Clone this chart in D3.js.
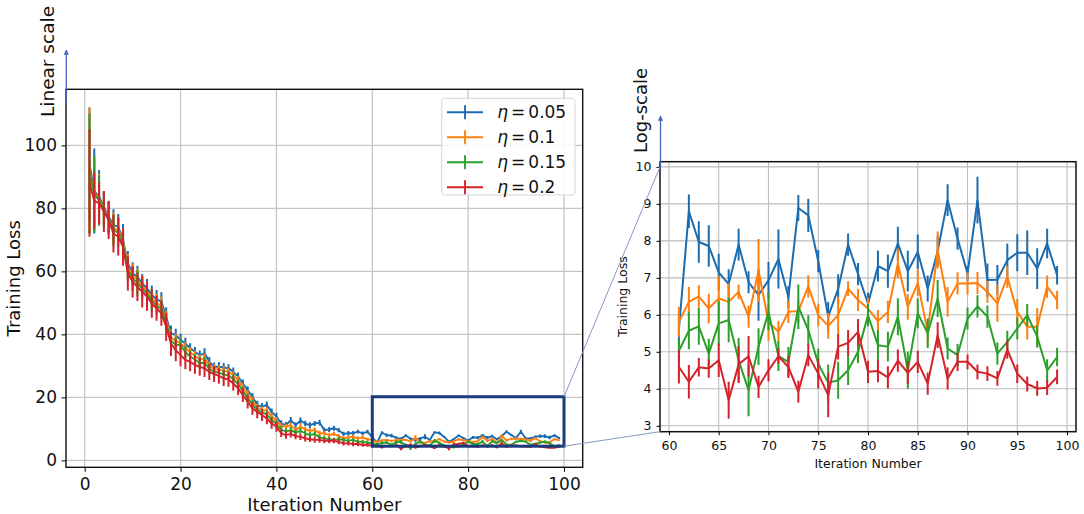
<!DOCTYPE html>
<html>
<head>
<meta charset="utf-8">
<script src="https://cdn.jsdelivr.net/npm/d3@7"></script>
<style>
  body { margin: 0; background: #fff; }
  svg { font-family: "DejaVu Sans", sans-serif; }
</style>
</head>
<body>
<svg id="chart" width="1084" height="514"></svg>
<script>
// iteration index on the x axis
const iterations = d3.range(1, 100);
const etaLabels = ["0.05", "0.1", "0.15", "0.2"];
const seriesColors = ["#1c6cb0", "#ff7f0e", "#2a9f2a", "#d4222a"];

// mean training loss per iteration (1..99)
const lossEta005 = [
  94, 85.5, 83.7, 80.5, 77.4, 74.7, 74.2, 70, 62.5, 59.4,
  58.3, 56.2, 54.6, 52.5, 51.1, 50.4, 45.6, 40.3, 39.8, 38.2,
  37.1, 35.6, 34.5, 33.4, 34, 31.3, 29.7, 29.7, 29.5, 29.2,
  28.1, 26.6, 24.4, 22.3, 20.2, 17.6, 17, 17.6, 15.4, 13.9,
  11.7, 11.2, 12.8, 11.2, 12.6, 11.7, 11.2, 11.7, 12, 9.6,
  9.8, 10.2, 9.6, 8.4, 8.6, 8.6, 9.1, 8.6, 9.1, 7.3,
  5.6, 8.8, 7.97, 7.86, 7.15, 6.83, 7.9, 6.88, 6.54, 6.93,
  7.51, 6.48, 8.89, 8.69, 7.45, 5.95, 6.7, 7.9, 7.1, 6.3,
  7.32, 7.18, 7.93, 7.18, 7.7, 6.71, 7.72, 9.1, 8.06, 7.12,
  9.1, 6.94, 6.95, 7.48, 7.68, 7.68, 7.25, 7.93, 7.07
];
const lossEta01 = [
  92, 85, 83, 80, 77, 73.7, 73, 69.5, 61.5, 58.5,
  57.3, 55.3, 53.6, 51.5, 50, 49, 44.5, 39, 38, 37.1,
  35.8, 34.3, 33.2, 32, 32.4, 30, 29, 28.8, 28.5, 28.1,
  27, 25.4, 23.2, 21, 19, 16.8, 16, 15.8, 14, 12.6,
  10.9, 10.7, 11.2, 9.6, 10.7, 9.8, 9.4, 9.6, 8.6, 8.6,
  8, 8.4, 7.7, 7, 7.3, 7.5, 7, 7.3, 6.7, 6.5,
  5.81, 6.35, 6.5, 6.17, 6.44, 6.35, 6.62, 5.95, 7.2, 5.8,
  5.54, 6.08, 6.1, 6.77, 5.99, 5.7, 5.99, 6.71, 6.4, 6.17,
  5.83, 6.08, 7.39, 6.22, 6.86, 5.54, 7.75, 6.35, 6.85, 6.85,
  6.86, 6.62, 6.31, 7.03, 6.08, 5.68, 5.68, 6.76, 6.4
];
const lossEta015 = [
  91, 84.5, 82.5, 79.6, 76.8, 73, 72.3, 68.8, 60.6, 57.7,
  56.3, 54.5, 52.8, 50.7, 49.2, 48, 43.5, 38, 36.7, 36.6,
  34.3, 33, 32, 30.9, 31, 29, 28.2, 27.8, 27.3, 26.9,
  25.8, 24.2, 22, 19.8, 17.8, 16, 15.2, 14.6, 12.8, 11.6,
  9.8, 9.1, 9.6, 8.8, 9.4, 8.6, 8, 8.4, 7.3, 7,
  6.7, 6.5, 6.7, 6.5, 6.2, 6.5, 5.9, 5.9, 5.6, 5.4,
  5.03, 5.57, 5.69, 4.95, 5.77, 5.86, 4.77, 3.96, 5.14, 6.08,
  4.88, 4.73, 6.22, 5.59, 4.68, 4.16, 4.23, 4.5, 5.0, 5.99,
  5.18, 5.14, 5.95, 4.5, 6.04, 5.5, 6.44, 5.09, 4.91, 5.9,
  6.23, 5.95, 4.95, 5.27, 5.63, 5.99, 5.41, 4.5, 4.86
];
const lossEta02 = [
  88, 82.5, 81.6, 79, 76.3, 72, 71, 67.8, 59.4, 56.7,
  55.1, 53.5, 52, 49.8, 48.3, 46.7, 42.4, 37.1, 35, 33.4,
  31.9, 31.3, 30.3, 29.7, 29.2, 28.1, 27.4, 26.8, 26, 25.7,
  24.4, 22.9, 20.7, 18.6, 16.5, 15.4, 14.4, 13.3, 11.7, 10.7,
  8.6, 8, 8.4, 7.7, 7.5, 7, 6.7, 6.5, 6.5, 6.2,
  6.2, 6.2, 5.9, 5.4, 5.4, 5.2, 5.2, 4.9, 4.9, 4.6,
  4.59, 4.19, 4.58, 4.55, 4.77, 3.69, 4.66, 4.88, 4.05, 4.5,
  4.88, 4.59, 3.92, 4.91, 4.41, 3.83, 5.14, 5.24, 5.54, 4.46,
  4.48, 4.31, 4.76, 4.43, 4.73, 4.14, 5.45, 4.28, 4.73, 4.73,
  4.46, 4.41, 4.28, 5.06, 4.41, 4.13, 4.01, 4.03, 4.32
];

// half length of each error bar
const errEta005 = [
  18, 13.5, 8.5, 5, 5, 5, 4, 5, 4, 3.5,
  3.5, 3, 3, 3, 3, 3, 3, 2.5, 2, 2,
  1.8, 1.6, 1.5, 1.5, 1.6, 1.5, 1.4, 1.5, 1.4, 1.3,
  1.4, 1.3, 1.3, 1.2, 1.2, 1.3, 1.2, 1.1, 1.1, 1.2,
  1, 1, 1, 0.9, 1, 0.9, 0.9, 0.8, 0.9, 0.8,
  0.8, 0.8, 0.7, 0.7, 0.7, 0.7, 0.6, 0.6, 0.6, 0.6,
  0.45, 0.45, 0.56, 0.56, 0.5, 0.4, 0.43, 0.3, 0.7, 0.5,
  0.8, 0.3, 0.35, 0.45, 0.3, 0.4, 0.4, 0.3, 0.3, 0.3,
  0.42, 0.45, 0.45, 0.55, 0.47, 0.35, 0.4, 0.43, 0.3, 0.2,
  0.63, 0.45, 0.4, 0.45, 0.5, 0.6, 0.55, 0.4, 0.25
];
const errEta01 = [
  20, 11, 8, 5, 5, 5, 4, 4, 4, 4,
  3.5, 3.5, 3, 3, 3, 3, 3, 2.5, 2.2, 2,
  1.8, 1.7, 1.6, 1.6, 1.5, 1.5, 1.5, 1.4, 1.4, 1.3,
  1.3, 1.3, 1.2, 1.2, 1.2, 1.1, 1.1, 1.1, 1, 1,
  1, 0.9, 0.9, 0.9, 0.9, 0.8, 0.8, 0.8, 0.8, 0.7,
  0.7, 0.7, 0.7, 0.6, 0.6, 0.6, 0.6, 0.6, 0.5, 0.5,
  0.4, 0.4, 0.3, 0.4, 0.6, 0.5, 0.2, 0.3, 0.85, 0.5,
  0.3, 0.3, 0.3, 0.3, 0.3, 0.35, 0.5, 0.2, 0.3, 0.3,
  0.3, 0.3, 0.4, 0.35, 0.35, 0.3, 0.5, 0.4, 0.3, 0.3,
  0.3, 0.3, 0.5, 0.3, 0.35, 0.35, 0.5, 0.3, 0.25
];
const errEta015 = [
  19, 12, 8, 5.5, 5, 5, 4.5, 4.5, 4, 4,
  4, 3.5, 3.5, 3.5, 3, 3, 3, 2.8, 2.5, 2.3,
  2, 1.9, 1.8, 1.8, 1.7, 1.7, 1.6, 1.6, 1.5, 1.5,
  1.5, 1.4, 1.4, 1.3, 1.3, 1.3, 1.2, 1.2, 1.1, 1.1,
  1.1, 1, 1, 1, 0.9, 0.9, 0.9, 0.8, 0.8, 0.8,
  0.8, 0.7, 0.7, 0.7, 0.7, 0.6, 0.6, 0.6, 0.6, 0.6,
  0.3, 0.5, 0.5, 0.4, 0.6, 0.6, 0.6, 0.7, 0.5, 0.5,
  0.4, 0.4, 0.6, 0.4, 0.4, 0.5, 0.5, 0.4, 0.3, 0.3,
  0.4, 0.4, 0.5, 0.5, 0.4, 0.4, 0.5, 0.3, 0.3, 0.3,
  0.3, 0.3, 0.3, 0.3, 0.3, 0.3, 0.3, 0.3, 0.25
];
const errEta02 = [
  17, 9, 6.6, 6.5, 6, 6, 6, 6, 5.5, 5,
  4.5, 5, 4.5, 4.5, 4, 4, 4.5, 4, 3.5, 3.5,
  3, 3, 2.8, 2.8, 2.7, 2.6, 2.5, 2.5, 2.4, 2.3,
  2.3, 2.2, 2.2, 2.1, 2, 2, 1.9, 1.8, 1.7, 1.6,
  1.2, 1.1, 1.1, 1, 1, 1, 0.9, 0.9, 0.9, 0.8,
  0.8, 0.8, 0.8, 0.7, 0.7, 0.7, 0.7, 0.6, 0.6, 0.6,
  0.45, 0.45, 0.25, 0.25, 0.45, 0.5, 0.5, 0.55, 0.3, 0.3,
  0.2, 0.3, 0.3, 0.3, 0.4, 0.6, 0.35, 0.35, 0.35, 0.3,
  0.3, 0.3, 0.3, 0.3, 0.3, 0.3, 0.35, 0.3, 0.25, 0.2,
  0.2, 0.2, 0.2, 0.25, 0.25, 0.2, 0.2, 0.2, 0.2
];

const leftXTicks = [0, 20, 40, 60, 80, 100];
const leftYTicks = [0, 20, 40, 60, 80, 100];
const rightXTicks = [60, 65, 70, 75, 80, 85, 90, 95, 100];
const rightYTicks = [3, 4, 5, 6, 7, 8, 9, 10];

// region of the left panel that is blown up on the right
const zoomBoxX = [60, 100];
const zoomBoxY = [4.5, 20.2];

const losses = [lossEta005, lossEta01, lossEta015, lossEta02];
const errs = [errEta005, errEta01, errEta015, errEta02];
const series = etaLabels.map((eta, i) => ({
  eta: eta,
  color: seriesColors[i],
  loss: losses[i],
  err: errs[i]
}));

const svg = d3.select("#chart");

function drawPanel(cfg) {
  const g = svg.append("g");
  const x = d3.scaleLinear().domain(cfg.xDomain).range([cfg.left, cfg.right]);
  const y = d3.scaleLinear().domain(cfg.yDomain).range([cfg.bottom, cfg.top]);

  // grid
  g.append("g")
    .selectAll("line")
    .data(cfg.xTicks)
    .join("line")
    .attr("x1", (d) => x(d))
    .attr("x2", (d) => x(d))
    .attr("y1", cfg.top)
    .attr("y2", cfg.bottom)
    .attr("stroke", cfg.gridColor)
    .attr("stroke-width", cfg.gridWidth);
  g.append("g")
    .selectAll("line")
    .data(cfg.yTicks)
    .join("line")
    .attr("x1", cfg.left)
    .attr("x2", cfg.right)
    .attr("y1", (d) => y(d))
    .attr("y2", (d) => y(d))
    .attr("stroke", cfg.gridColor)
    .attr("stroke-width", cfg.gridWidth);

  g.append("clipPath")
    .attr("id", cfg.id)
    .append("rect")
    .attr("x", cfg.left)
    .attr("y", cfg.top)
    .attr("width", cfg.right - cfg.left)
    .attr("height", cfg.bottom - cfg.top);

  const plot = g.append("g").attr("clip-path", `url(#${cfg.id})`);
  const idx = iterations
    .map((it, i) => i)
    .filter((i) => iterations[i] >= cfg.fromIter);

  series.forEach((s) => {
    const sg = plot.append("g");
    sg.selectAll("line")
      .data(idx)
      .join("line")
      .attr("x1", (i) => x(iterations[i]))
      .attr("x2", (i) => x(iterations[i]))
      .attr("y1", (i) => y(s.loss[i] - s.err[i]))
      .attr("y2", (i) => y(s.loss[i] + s.err[i]))
      .attr("stroke", s.color)
      .attr("stroke-width", cfg.barWidth);
    sg.append("path")
      .datum(idx)
      .attr("fill", "none")
      .attr("stroke", s.color)
      .attr("stroke-width", cfg.lineWidth)
      .attr("stroke-linejoin", "round")
      .attr(
        "d",
        d3
          .line()
          .x((i) => x(iterations[i]))
          .y((i) => y(s.loss[i]))
      );
  });

  // axes (ticks + labels only, frame drawn separately)
  const xAxis = g
    .append("g")
    .attr("transform", `translate(0,${cfg.bottom})`)
    .call(
      d3
        .axisBottom(x)
        .tickValues(cfg.xTicks)
        .tickSize(cfg.tickLen)
        .tickPadding(cfg.xPad)
        .tickFormat(d3.format("d"))
    );
  const yAxis = g
    .append("g")
    .attr("transform", `translate(${cfg.left},0)`)
    .call(
      d3
        .axisLeft(y)
        .tickValues(cfg.yTicks)
        .tickSize(cfg.tickLen)
        .tickPadding(cfg.yPad)
        .tickFormat(d3.format("d"))
    );
  [xAxis, yAxis].forEach((a) => {
    a.select(".domain").remove();
    a.selectAll("line").attr("stroke", "#000").attr("stroke-width", 1);
    a.selectAll("text")
      .attr("fill", "#111")
      .style("font-family", '"DejaVu Sans", sans-serif')
      .style("font-size", cfg.tickFont + "px");
  });

  // frame
  g.append("rect")
    .attr("x", cfg.left)
    .attr("y", cfg.top)
    .attr("width", cfg.right - cfg.left)
    .attr("height", cfg.bottom - cfg.top)
    .attr("fill", "none")
    .attr("stroke", "#111")
    .attr("stroke-width", cfg.frameWidth);

  // axis titles
  g.append("text")
    .attr("x", (cfg.left + cfg.right) / 2)
    .attr("y", cfg.xLabelY)
    .attr("text-anchor", "middle")
    .attr("font-size", cfg.labelFont)
    .attr("fill", "#111")
    .text("Iteration Number");
  g.append("text")
    .attr(
      "transform",
      `translate(${cfg.yLabelX},${(cfg.top + cfg.bottom) / 2}) rotate(-90)`
    )
    .attr("text-anchor", "middle")
    .attr("font-size", cfg.labelFont)
    .attr("fill", "#111")
    .text("Training Loss");

  return { g, x, y };
}

const left = drawPanel({
  id: "clipLeft",
  left: 66, top: 89.3, right: 582.7, bottom: 467.3,
  xDomain: [-3.9, 103.9], yDomain: [-2.2, 117.8],
  xTicks: leftXTicks, yTicks: leftYTicks,
  fromIter: 1,
  gridColor: "#c6c6c6", gridWidth: 1.3,
  lineWidth: 1.9, barWidth: 2,
  tickLen: 4.5, xPad: 5.7, yPad: 4.5,
  tickFont: 17, labelFont: 18,
  frameWidth: 1.4,
  xLabelY: 510.5, yLabelX: 19.5
});

const right = drawPanel({
  id: "clipRight",
  left: 660, top: 161.7, right: 1076, bottom: 431.7,
  xDomain: [59.1, 100.9], yDomain: [2.84, 10.14],
  xTicks: rightXTicks, yTicks: rightYTicks,
  fromIter: 61,
  gridColor: "#bdbdbd", gridWidth: 1.1,
  lineWidth: 2, barWidth: 2,
  tickLen: 3.5, xPad: 6, yPad: 5,
  tickFont: 12.5, labelFont: 12.5,
  frameWidth: 1.5,
  xLabelY: 467.5, yLabelX: 627
});

// zoom box on the left panel
const bx0 = left.x(zoomBoxX[0]), bx1 = left.x(zoomBoxX[1]);
const by0 = left.y(zoomBoxY[0]), by1 = left.y(zoomBoxY[1]);
left.g
  .append("rect")
  .attr("x", bx0)
  .attr("y", by1)
  .attr("width", bx1 - bx0)
  .attr("height", by0 - by1)
  .attr("fill", "none")
  .attr("stroke", "#1b3c7c")
  .attr("stroke-width", 3);

// connector lines box -> right panel
const connectors = [
  [bx1, by1, right.x(59.1), right.y(10)],
  [bx1, by0, right.x(59.1), right.y(2.84)]
];
svg.append("g")
  .selectAll("line")
  .data(connectors)
  .join("line")
  .attr("x1", (d) => d[0])
  .attr("y1", (d) => d[1])
  .attr("x2", (d) => d[2])
  .attr("y2", (d) => d[3])
  .attr("stroke", "#8797c8")
  .attr("stroke-width", 1);

// legend
const legend = svg.append("g");
legend.append("rect")
  .attr("x", 441.7)
  .attr("y", 98.3)
  .attr("width", 133.3)
  .attr("height", 96.7)
  .attr("rx", 3)
  .attr("fill", "#fff")
  .attr("fill-opacity", 0.85)
  .attr("stroke", "#d6d6d6")
  .attr("stroke-width", 1);
const item = legend
  .selectAll("g.item")
  .data(series)
  .join("g")
  .attr("class", "item")
  .attr("transform", (d, i) => `translate(0,${112.3 + i * 25})`);
item.append("line")
  .attr("x1", 447).attr("x2", 483).attr("y1", 0).attr("y2", 0)
  .attr("stroke", (d) => d.color).attr("stroke-width", 1.9);
item.append("line")
  .attr("x1", 465).attr("x2", 465).attr("y1", -7).attr("y2", 7)
  .attr("stroke", (d) => d.color).attr("stroke-width", 1.9);
const lt = item.append("text")
  .attr("x", 497.3)
  .attr("y", 6)
  .attr("font-size", 17)
  .attr("fill", "#111");
lt.append("tspan").attr("font-style", "italic").text("η");
lt.append("tspan").attr("dx", 3).text("=");
lt.append("tspan").attr("dx", 3).text((d) => d.eta);

// blue arrows + scale notes
svg.append("defs")
  .append("marker")
  .attr("id", "arrowhead")
  .attr("viewBox", "0 -5 10 10")
  .attr("refX", 9)
  .attr("refY", 0)
  .attr("orient", "auto")
  .attr("markerWidth", 4)
  .attr("markerHeight", 4)
  .append("path")
  .attr("d", "M0,-5L10,0L0,5Z")
  .attr("fill", "#4466c0");

const arrows = [
  [66.3, 103, 66.3, 50],
  [660.5, 166.7, 660.5, 116]
];
svg.append("g")
  .selectAll("line")
  .data(arrows)
  .join("line")
  .attr("x1", (d) => d[0])
  .attr("y1", (d) => d[1])
  .attr("x2", (d) => d[2])
  .attr("y2", (d) => d[3])
  .attr("stroke", "#4466c0")
  .attr("stroke-width", 1.3)
  .attr("marker-end", "url(#arrowhead)");

svg.append("text")
  .attr("transform", "translate(54,61.5) rotate(-90)")
  .attr("text-anchor", "middle")
  .attr("font-size", 18.5)
  .attr("fill", "#111")
  .text("Linear scale");
svg.append("text")
  .attr("transform", "translate(646.5,110.5) rotate(-90)")
  .attr("text-anchor", "middle")
  .attr("font-size", 18)
  .attr("fill", "#111")
  .text("Log-scale");
</script>
</body>
</html>
